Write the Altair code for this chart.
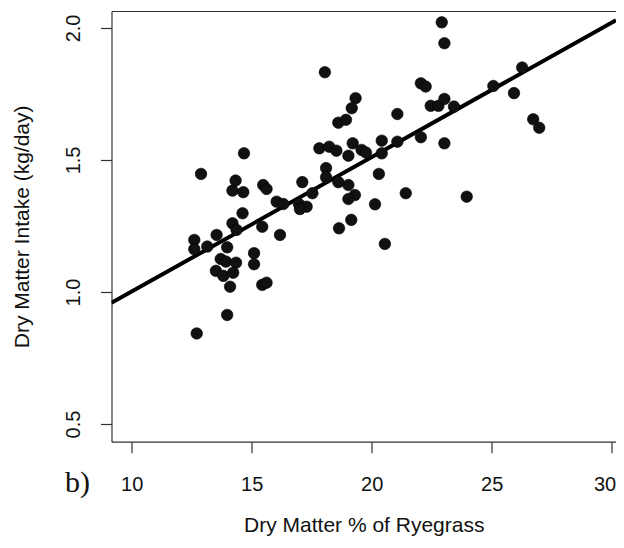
import altair as alt
import pandas as pd

# Dry matter % of ryegrass (x) and dry matter intake in kg/day (y)
dm_pct = [18.05, 19.33, 19.17, 18.61, 18.93, 14.68, 17.82, 18.23, 18.53, 19.21,
          19.03, 19.58, 19.76, 12.89, 14.33, 14.20, 14.65, 15.48, 15.62, 17.11,
          18.10, 18.10, 18.61, 19.03, 19.30, 19.03, 17.53, 16.04, 16.32, 16.97,
          17.29, 17.01, 14.62, 19.15, 18.64, 12.61, 12.61, 13.15, 13.54, 14.20,
          14.37, 15.44, 16.18, 13.98, 15.10, 15.10, 13.71, 13.93, 14.35, 13.51,
          13.82, 14.23, 14.10, 15.44, 15.62, 13.98, 12.71, 22.92, 23.03, 26.27,
          25.07, 25.93, 22.05, 22.25, 22.46, 22.78, 23.03, 23.43, 21.07, 26.73,
          26.98, 20.42, 21.07, 22.05, 23.03, 20.42, 20.30, 20.14, 21.42, 23.96,
          20.55]
dm_intake = [1.832, 1.734, 1.696, 1.641, 1.652, 1.525, 1.544, 1.550, 1.535, 1.563,
             1.516, 1.538, 1.528, 1.447, 1.422, 1.384, 1.378, 1.405, 1.390, 1.416,
             1.469, 1.434, 1.416, 1.405, 1.367, 1.352, 1.374, 1.342, 1.333, 1.333,
             1.323, 1.314, 1.298, 1.273, 1.241, 1.197, 1.162, 1.172, 1.216, 1.260,
             1.235, 1.247, 1.216, 1.169, 1.147, 1.105, 1.125, 1.115, 1.111, 1.080,
             1.061, 1.073, 1.020, 1.027, 1.035, 0.913, 0.843, 2.021, 1.942, 1.850,
             1.780, 1.753, 1.790, 1.778, 1.705, 1.705, 1.731, 1.702, 1.674, 1.654,
             1.622, 1.573, 1.569, 1.586, 1.563, 1.525, 1.447, 1.332, 1.374, 1.361,
             1.182]

x_ticks = [10, 15, 20, 25, 30]
y_ticks = [0.5, 1.0, 1.5, 2.0]
x_domain = [9.16, 30.18]
y_domain = [0.433, 2.064]
panel_label = "b)"
x_title = "Dry Matter % of Ryegrass"
y_title = "Dry Matter Intake (kg/day)"

df = pd.DataFrame({"x": dm_pct, "y": dm_intake})

W, H = 504.5, 430.7
FONT = "Liberation Sans"
INK = "#111111"
FRAME = "#333333"

x_scale = alt.Scale(domain=x_domain, nice=False, zero=False)
y_scale = alt.Scale(domain=y_domain, nice=False, zero=False)

x_axis = alt.Axis(values=x_ticks, format="d", grid=False,
                  domain=True, domainColor=FRAME, domainWidth=1.2,
                  tickSize=11, tickColor=FRAME, tickWidth=1.2,
                  labelFont=FONT, labelFontSize=20, labelColor=INK,
                  labelBaseline="alphabetic", labelPadding=38,
                  labelFlush=5, labelFlushOffset=4, labelOverlap=False,
                  title=x_title, titleFont=FONT, titleFontSize=21,
                  titleFontWeight="normal", titleColor=INK,
                  titleBaseline="alphabetic", titleY=89.5)
x_top = alt.Axis(orient="top", grid=False, domain=True, domainColor=FRAME,
                 domainWidth=1.2, ticks=False, labels=False, title=None)
y_axis = alt.Axis(values=y_ticks, format=".1f", grid=False,
                  domain=True, domainColor=FRAME, domainWidth=1.2,
                  tickSize=11, tickColor=FRAME, tickWidth=1.2,
                  labelFont=FONT, labelFontSize=20, labelColor=INK,
                  labelAngle=270, labelAlign="center", labelBaseline="alphabetic",
                  labelPadding=21.5, labelFlush=False, labelOverlap=False,
                  title=y_title, titleFont=FONT, titleFontSize=21,
                  titleFontWeight="normal", titleColor=INK,
                  titleAngle=270, titleAlign="center", titleBaseline="alphabetic",
                  titleX=-83, titleY=H / 2)

base = alt.Chart(df)

fit = base.transform_regression("x", "y", extent=x_domain).mark_line(
    color="black", strokeWidth=4, clip=True
).encode(
    x=alt.X("x:Q", scale=x_scale, axis=x_top),
    y=alt.Y("y:Q", scale=y_scale, axis=y_axis),
)

points = base.mark_circle(size=133, color=INK, opacity=1, stroke="black",
                          strokeWidth=0.6).encode(
    x=alt.X("x:Q", scale=x_scale, axis=x_axis),
    y=alt.Y("y:Q", scale=y_scale, axis=y_axis),
)

label = alt.Chart(pd.DataFrame({"t": [panel_label]})).mark_text(
    font="Liberation Serif", fontSize=30, color=INK, align="left",
    baseline="alphabetic", clip=False
).encode(
    text="t:N",
    x=alt.value(-46.5),
    y=alt.value(480.7),
)

chart = alt.layer(fit, points, label).resolve_axis(x="independent").properties(
    width=W, height=H,
    autosize=alt.AutoSizeParams(type="none"),
    padding={"left": 103.5, "top": 3, "right": 0, "bottom": 94.3},
    background="white",
).configure_view(strokeWidth=0)

chart.save("out.html", embed_options={"renderer": "svg", "actions": False})
